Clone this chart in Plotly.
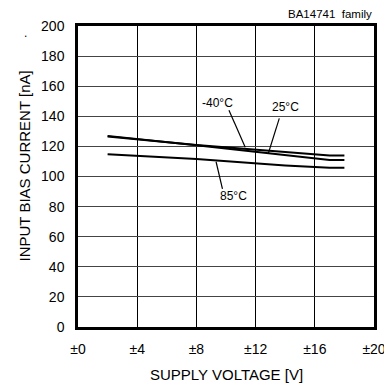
import plotly.graph_objects as go

# supply voltage [V] (±)
volt_m40 = [2, 8, 17, 18]
ib_m40 = [126.5, 121.0, 114.0, 114.0]

volt_25 = [2, 8, 17, 18]
ib_25 = [127.0, 120.8, 111.0, 111.0]

volt_85 = [2, 8, 14, 17, 18]
ib_85 = [114.8, 111.6, 107.3, 105.8, 105.8]

x_ticks = [0, 4, 8, 12, 16, 20]
x_tick_text = ['±0', '±4', '±8', '±12', '±16', '±20']
y_ticks = list(range(0, 201, 20))

FONT = 'Liberation Sans, Arial, sans-serif'

fig = go.Figure()
for xs, ys, name in [(volt_m40, ib_m40, '-40°C'), (volt_25, ib_25, '25°C'), (volt_85, ib_85, '85°C')]:
    fig.add_trace(go.Scatter(x=xs, y=ys, mode='lines', name=name,
                             line=dict(color='black', width=2), hoverinfo='none'))

# curve labels with leader lines
labels = [('-40°C', 9.4, 149, (10.2, 144), (11.3, 119.5)),
          ('25°C', 14.05, 146.5, (13.6, 138.6), (12.86, 115.4)),
          ('85°C', 10.5, 87, (9.33, 109.8), (9.76, 91.8))]
for txt, lx, ly, p0, p1 in labels:
    fig.add_annotation(x=lx, y=ly, text=txt, showarrow=False, xref='x', yref='y',
                       font=dict(family=FONT, size=12, color='black'))
    fig.add_shape(type='line', x0=p0[0], y0=p0[1], x1=p1[0], y1=p1[1],
                  line=dict(color='black', width=1.2), xref='x', yref='y')

fig.add_annotation(text='BA14741  family', x=1.0, y=1.0, xref='paper', yref='paper',
                   xanchor='right', yanchor='bottom', yshift=4, showarrow=False,
                   font=dict(family=FONT, size=11.5, color='black'))
fig.add_annotation(text='SUPPLY VOLTAGE [V]', x=0.5, y=0, xref='paper', yref='paper',
                   yanchor='middle', yshift=-47, showarrow=False,
                   font=dict(family=FONT, size=15, color='black'))
fig.add_annotation(text='INPUT BIAS CURRENT [nA]', x=0, y=0.5, xref='paper', yref='paper',
                   xanchor='center', yanchor='middle', xshift=-54, yshift=10,
                   textangle=-90, showarrow=False,
                   font=dict(family=FONT, size=15, color='black'))
fig.add_annotation(text='.', x=0, y=0.98, xref='paper', yref='paper',
                   xshift=-56, yshift=8, showarrow=False,
                   font=dict(family=FONT, size=12, color='black'))

fig.update_xaxes(range=[0, 20], tickvals=x_ticks, ticktext=x_tick_text,
                 showgrid=True, gridcolor='black', gridwidth=1,
                 showline=True, linecolor='black', linewidth=2.5, mirror=True,
                 zeroline=False, ticks='', ticklabelstandoff=7,
                 ticklabeloverflow='allow',
                 tickfont=dict(family=FONT, size=14, color='black'))
fig.update_yaxes(range=[0, 200], tickvals=y_ticks,
                 showgrid=True, gridcolor='#444444', gridwidth=1,
                 showline=True, linecolor='black', linewidth=2.5, mirror=True,
                 zeroline=False, ticks='', ticklabelstandoff=8,
                 tickfont=dict(family=FONT, size=14, color='black'))

# the page body adds an 8px offset, so the figure is 8px smaller than the window
fig.update_layout(width=384, height=375, showlegend=False,
                  margin=dict(l=70, r=6, t=18, b=56),
                  paper_bgcolor='white', plot_bgcolor='white',
                  font=dict(family=FONT, size=12, color='black'))

fig.write_html("out.html")
